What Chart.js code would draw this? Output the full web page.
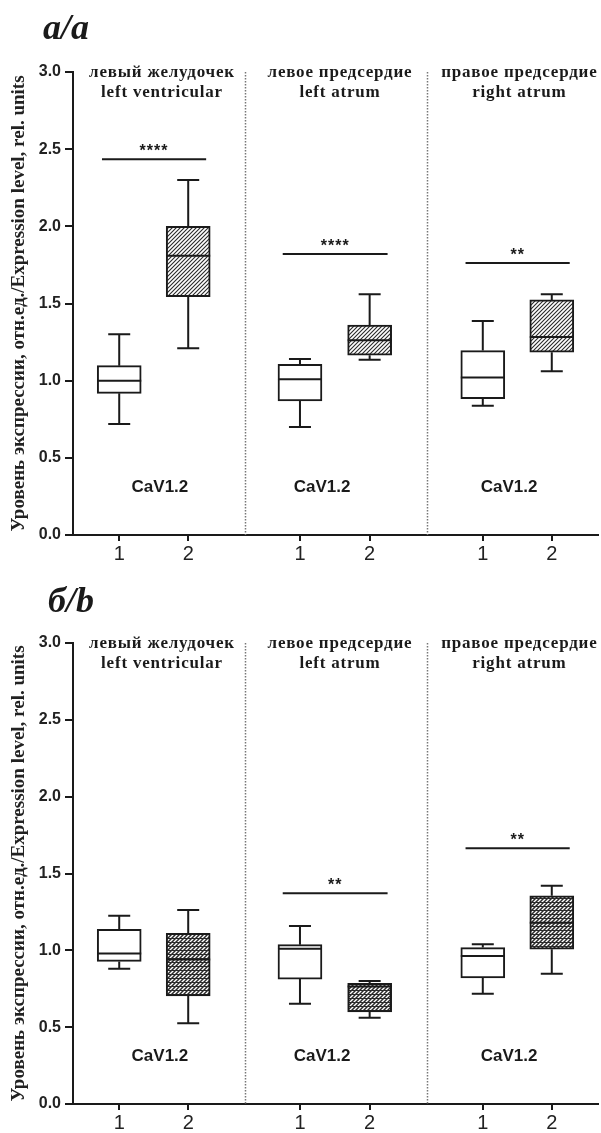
<!DOCTYPE html>
<html><head><meta charset="utf-8">
<script src="https://cdn.jsdelivr.net/npm/chart.js@4"></script>
<style>
html,body{margin:0;padding:0;background:#fff;}
#wrap{position:relative;width:601px;height:1133px;overflow:hidden;}
canvas{position:absolute;left:0;}
</style></head><body>
<div id="wrap">
<canvas id="c1" width="601" height="566" style="top:0px"></canvas>
<canvas id="c2" width="601" height="567" style="top:566px"></canvas>
</div>
<script>
// ---- shared layout data ----
const positions = [1, 2, 3.62, 4.63, 6.27, 7.27];
const xTickLabels = ['1', '2', '1', '2', '1', '2'];
const yTicksStep = 0.5;
const regionLabelsRu = ['левый желудочек', 'левое предсердие', 'правое предсердие'];
const regionLabelsEn = ['left ventricular', 'left atrum', 'right atrum'];
const regionLabelX = [1.62, 4.2, 6.8];
const geneLabel = 'CaV1.2';
const geneLabelX = [1.59, 3.94, 6.65];
const geneLabelY = 0.31;
const dividerX = [2.83, 5.46];
const yTitle = 'Уровень экспрессии, отн.ед./Expression level, rel. units';

// ---- panel a/a ----
const aMin = [0.72, 1.21, 0.70, 1.136, 0.838, 1.061];
const aQ1  = [0.918, 1.545, 0.868, 1.165, 0.884, 1.184];
const aMed = [1.00, 1.81, 1.009, 1.262, 1.02, 1.283];
const aQ3  = [1.097, 2.00, 1.106, 1.36, 1.195, 1.523];
const aMax = [1.30, 2.30, 1.14, 1.56, 1.387, 1.56];
const aSigGroup = [0, 1, 2];
const aSigY = [2.435, 1.82, 1.763];
const aSigText = ['****', '****', '**'];

// ---- panel б/b ----
const bMin = [0.88, 0.525, 0.653, 0.562, 0.718, 0.848];
const bQ1  = [0.928, 0.703, 0.813, 0.60, 0.82, 1.007];
const bMed = [0.979, 0.941, 1.01, 0.765, 0.963, 1.18];
const bQ3  = [1.137, 1.11, 1.037, 0.785, 1.018, 1.355];
const bMax = [1.225, 1.262, 1.158, 0.80, 1.039, 1.42];
const bSigGroup = [1, 2];
const bSigY = [1.371, 1.664];
const bSigText = ['**', '**'];

const INK = '#1a1a1a';

function hatchPattern(dense) {
  const t = document.createElement('canvas');
  t.width = 4; t.height = 4;
  const g = t.getContext('2d');
  g.fillStyle = '#fff'; g.fillRect(0, 0, 4, 4);
  g.strokeStyle = '#2a2a2a';
  g.lineWidth = dense ? 1.5 : 1.1;
  g.beginPath();
  g.moveTo(0, 4); g.lineTo(4, 0);
  g.moveTo(-1, 1); g.lineTo(1, -1);
  g.moveTo(3, 5); g.lineTo(5, 3);
  g.stroke();
  if (dense) {
    g.lineWidth = 1;
    g.beginPath(); g.moveTo(0, 0.5); g.lineTo(4, 0.5); g.stroke();
  }
  return g.createPattern(t, 'repeat');
}

const boxPlugin = {
  id: 'boxExtras',
  beforeDatasetsDraw(chart) {
    const {ctx, chartArea, scales: {x}} = chart;
    ctx.save();
    ctx.strokeStyle = '#777';
    ctx.lineWidth = 1.5;
    ctx.setLineDash([1.5, 1.5]);
    dividerX.forEach(v => {
      const px = Math.round(x.getPixelForValue(v)) + 0.5;
      ctx.beginPath(); ctx.moveTo(px, chartArea.top); ctx.lineTo(px, chartArea.bottom); ctx.stroke();
    });
    ctx.restore();
  },
  afterDatasetsDraw(chart, args, opts) {
    const p = opts.panel;
    const {ctx, chartArea, scales: {x, y}} = chart;
    ctx.save();
    ctx.strokeStyle = INK;
    ctx.lineWidth = 2;
    positions.forEach((v, i) => {
      const cx = x.getPixelForValue(v);
      const yMin = y.getPixelForValue(p.min[i]);
      const yQ1 = y.getPixelForValue(p.q1[i]);
      const yMed = y.getPixelForValue(p.med[i]);
      const yQ3 = y.getPixelForValue(p.q3[i]);
      const yMax = y.getPixelForValue(p.max[i]);
      ctx.beginPath();
      ctx.moveTo(cx, yQ3); ctx.lineTo(cx, yMax);
      ctx.moveTo(cx - 11, yMax); ctx.lineTo(cx + 11, yMax);
      ctx.moveTo(cx, yQ1); ctx.lineTo(cx, yMin);
      ctx.moveTo(cx - 11, yMin); ctx.lineTo(cx + 11, yMin);
      ctx.moveTo(cx - 22, yMed); ctx.lineTo(cx + 22, yMed);
      ctx.stroke();
    });
    // significance bars
    p.sigGroup.forEach((g, k) => {
      const x1 = x.getPixelForValue(positions[2 * g] - 0.25);
      const x2 = x.getPixelForValue(positions[2 * g + 1] + 0.26);
      const py = y.getPixelForValue(p.sigY[k]);
      ctx.beginPath(); ctx.moveTo(x1, py); ctx.lineTo(x2, py); ctx.stroke();
      ctx.fillStyle = INK;
      ctx.font = 'bold 16px "Liberation Sans"';
      ctx.letterSpacing = '1px';
      ctx.textAlign = 'center';
      ctx.textBaseline = 'alphabetic';
      ctx.fillText(p.sigText[k], (x1 + x2) / 2, py - 3);
    });
    // gene labels
    ctx.letterSpacing = '0px';
    ctx.fillStyle = INK;
    ctx.font = 'bold 17px "Liberation Sans"';
    ctx.textAlign = 'center';
    ctx.textBaseline = 'middle';
    geneLabelX.forEach(v => ctx.fillText(geneLabel, x.getPixelForValue(v), y.getPixelForValue(geneLabelY)));
    // region headers
    ctx.font = 'bold 17px "Liberation Serif"';
    ctx.letterSpacing = '0.8px';
    regionLabelX.forEach((v, i) => {
      const px = x.getPixelForValue(v);
      ctx.fillText(regionLabelsRu[i], px, chartArea.top + 1);
      ctx.fillText(regionLabelsEn[i], px, chartArea.top + 21);
    });
    // panel title
    ctx.letterSpacing = '0px';
    ctx.textAlign = 'left';
    ctx.textBaseline = 'alphabetic';
    ctx.font = 'italic bold 36px "Liberation Serif"';
    ctx.fillText(p.title, p.titleX, p.titleY);
    ctx.restore();
  }
};

function makeChart(id, p) {
  return new Chart(document.getElementById(id), {
    type: 'bar',
    data: {datasets: [{
      data: positions.map((v, i) => ({x: v, y: [p.q1[i], p.q3[i]]})),
      backgroundColor: positions.map((v, i) => i % 2 ? p.pattern : '#ffffff'),
      borderColor: INK, borderWidth: 2, borderSkipped: false,
      barThickness: 44, grouped: false
    }]},
    options: {
      responsive: false, animation: false, devicePixelRatio: 1,
      layout: {padding: {top: p.top, right: 3, left: 0, bottom: 0}},
      plugins: {legend: {display: false}, tooltip: {enabled: false}, boxExtras: {panel: p}},
      scales: {
        x: {type: 'linear', min: 0.33, max: 7.94, offset: false,
          afterBuildTicks: s => { s.ticks = positions.map(v => ({value: v})); },
          afterFit: s => { s.height = p.xh; },
          ticks: {callback: (v, i) => xTickLabels[i], font: {family: 'Liberation Sans', size: 20}, color: '#222', padding: 1, maxRotation: 0, autoSkip: false},
          grid: {offset: false, drawOnChartArea: false, tickLength: 6, lineWidth: 2, color: INK},
          border: {color: INK, width: 2}},
        y: {min: 0, max: 3,
          afterFit: s => { s.width = 73; },
          ticks: {stepSize: yTicksStep, callback: v => v.toFixed(1), font: {family: 'Liberation Sans', size: 16, weight: 'bold'}, color: '#222', padding: 4},
          grid: {drawOnChartArea: false, tickLength: 8, lineWidth: 2, color: INK},
          border: {color: INK, width: 2},
          title: {display: true, text: yTitle, font: {family: 'Liberation Serif', size: 19, weight: 'bold'}, color: '#222', padding: {top: 8, bottom: 0}}}
      }
    },
    plugins: [boxPlugin]
  });
}

makeChart('c1', {min: aMin, q1: aQ1, med: aMed, q3: aQ3, max: aMax, sigGroup: aSigGroup, sigY: aSigY, sigText: aSigText,
  pattern: hatchPattern(false), top: 72, xh: 31, title: 'a/a', titleX: 43, titleY: 39});
makeChart('c2', {min: bMin, q1: bQ1, med: bMed, q3: bQ3, max: bMax, sigGroup: bSigGroup, sigY: bSigY, sigText: bSigText,
  pattern: hatchPattern(true), top: 77, xh: 29, title: 'б/b', titleX: 48, titleY: 46});
</script>
</body></html>
